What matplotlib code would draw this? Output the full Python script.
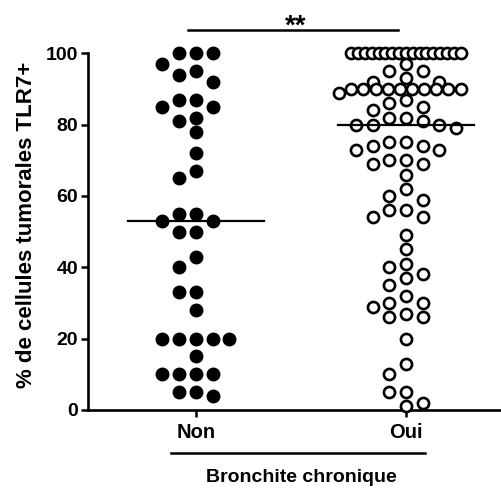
import matplotlib
matplotlib.use("Agg")
import matplotlib.pyplot as plt
import numpy as np

plt.rcParams['font.family'] = ['Liberation Sans', 'DejaVu Sans']
plt.rcParams['font.weight'] = 'bold'

categories = ["Non", "Oui"]
non_vals = [100, 100, 100, 97, 95, 94, 92, 87, 87, 85, 85, 82, 81, 78, 72, 67, 65,
            55, 55, 53, 53, 50, 50, 43, 40, 33, 33, 28, 20, 20, 20, 20, 20, 15,
            10, 10, 10, 10, 5, 5, 4]
oui_vals = [100] * 17 + [97, 95, 95, 93, 92, 92] + [90] * 10 + \
    [89, 87, 86, 85, 84, 82, 80, 80, 79, 80, 81, 82,
     75, 74, 73, 73, 74, 75, 70, 69, 69, 70, 66, 62, 59, 60, 56, 54, 54, 56,
     49, 45, 41, 40, 38, 37, 35, 32, 30, 29, 30, 26, 26, 27, 20, 13, 10, 5, 5, 2, 1]
yticks = [0, 20, 40, 60, 80, 100]
xlabel = "Bronchite chronique"
ylabel = "% de cellules tumorales TLR7+"
signif = "**"

STEP = 0.0795   # column spacing in category units
YPX = 3.567     # pixels per y unit


def scatter_layout(values, thr=14, soft=6, maxcols=7):
    # grid based spread like a column scatter plot
    vals = np.asarray(values, float)
    xs = np.zeros(len(vals))
    taken = []
    done = set()
    uniq, counts = np.unique(vals, return_counts=True)
    for u, n in zip(uniq, counts):
        if n > maxcols:
            idx = np.where(vals == u)[0]
            xs[idx] = np.linspace(-0.26, 0.26, n)
            taken += [(c, u, soft) for c in range(-(maxcols // 2), maxcols // 2 + 1)]
            done.update(idx.tolist())
    cand = [0]
    for k in range(1, 10):
        cand += [-k, k]
    for i in np.argsort(-vals, kind="stable"):
        if i in done:
            continue
        for k in cand:
            if all(c != k or abs(y - vals[i]) * YPX >= t for c, y, t in taken):
                break
        xs[i] = k * STEP
        taken.append((k, vals[i], thr))
    return xs


fig = plt.figure(figsize=(5.02, 4.88), dpi=100)
ax = fig.add_axes([88 / 502, 78 / 488, 1 - 88 / 502, 356.7 / 488])

x0 = scatter_layout(non_vals)
x1 = scatter_layout(oui_vals)
ax.plot(0 + x0, non_vals, 'o', color='black', markersize=9, clip_on=False, zorder=3)
ax.plot(1 + x1, oui_vals, 'o', markerfacecolor='white', markeredgecolor='black',
        markersize=8, markeredgewidth=1.9, clip_on=False, zorder=3)

for i, v in enumerate([non_vals, oui_vals]):
    m = np.median(v)
    ax.plot([i - 0.325, i + 0.325], [m, m], color='black', lw=1.6, zorder=4, clip_on=False)

ax.set_xlim(-0.513, 1.457)
ax.set_ylim(0, 100)
ax.set_yticks(yticks)
ax.set_xticks([0, 1])
ax.set_xticklabels(categories, fontsize=14.5, fontweight='bold')
ax.tick_params(axis='y', labelsize=14, width=1.8, length=5, pad=2)
ax.tick_params(axis='x', width=1.8, length=5, pad=4)
for t in ax.get_yticklabels():
    t.set_fontweight('bold')
ax.spines['top'].set_visible(False)
ax.spines['right'].set_visible(False)
ax.spines['left'].set_linewidth(1.9)
ax.spines['bottom'].set_linewidth(1.9)
ax.set_ylabel(ylabel, fontsize=16, fontweight='bold')
ax.yaxis.set_label_coords(-0.124, 0.519)

# significance bar
ax.plot([-0.037, 0.963], [106.5, 106.5], color='black', lw=1.8, clip_on=False)
ax.text(0.473, 105.4, signif, ha='center', va='baseline', fontsize=20, fontweight='bold')

# group line and x title
ax.plot([-0.12, 1.09], [-12.1, -12.1], color='black', lw=1.8, clip_on=False)
ax.text(0.5, -20.2, xlabel, ha='center', va='baseline', fontsize=14, fontweight='bold')

fig.savefig("out.png", dpi=100)
